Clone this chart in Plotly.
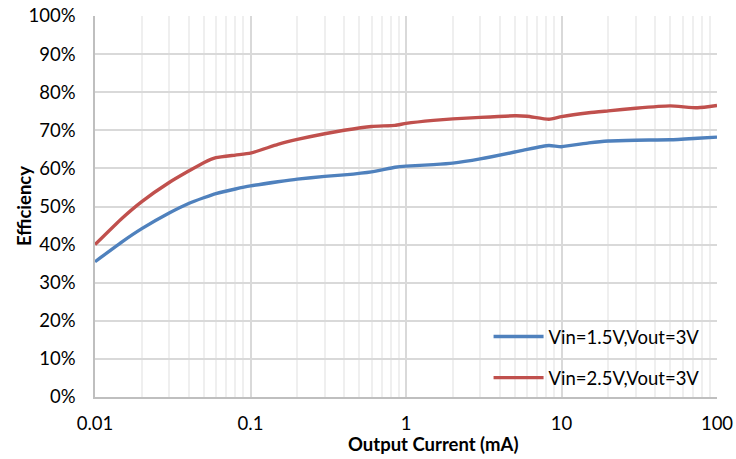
import plotly.graph_objects as go

current_ma = [0.01, 0.015, 0.02, 0.03, 0.04, 0.05, 0.06, 0.08, 0.1, 0.15, 0.2, 0.3, 0.4, 0.6, 0.85, 1, 1.5, 2, 3, 5, 6, 8.3, 10, 15, 20, 30, 50, 75, 100]
eff_15v = [35.5, 40.8, 44.2, 48.3, 50.8, 52.3, 53.4, 54.6, 55.4, 56.5, 57.2, 57.9, 58.3, 59.1, 60.3, 60.6, 61.0, 61.4, 62.5, 64.3, 65.0, 66.0, 65.7, 66.7, 67.2, 67.4, 67.5, 67.9, 68.2]
eff_25v = [40.0, 47.0, 51.3, 56.3, 59.3, 61.5, 62.8, 63.5, 64.0, 66.3, 67.6, 69.1, 70.0, 71.0, 71.3, 71.8, 72.6, 73.0, 73.4, 73.8, 73.7, 72.9, 73.6, 74.6, 75.1, 75.8, 76.4, 75.9, 76.5]

series_names = ["Vin=1.5V,Vout=3V", "Vin=2.5V,Vout=3V"]
x_tickvals = [0.01, 0.1, 1, 10, 100]
x_ticktext = ["0.01", "0.1", "1", "10", "100"]
y_tickvals = list(range(0, 101, 10))
y_ticktext = [f"{v}%" for v in y_tickvals]

font_family = "Lato, 'Open Sans', sans-serif"
FS = 18.5

fig = go.Figure()
fig.add_trace(go.Scatter(x=current_ma, y=eff_15v, mode="lines", name=series_names[0],
                         line=dict(color="#4F81BD", width=3.4, shape="spline", smoothing=0.5),
                         legendgroup="a"))
fig.add_trace(go.Scatter(x=current_ma, y=eff_25v, mode="lines", name=series_names[1],
                         line=dict(color="#C0504D", width=3.4, shape="spline", smoothing=0.5),
                         legendgroup="b"))

fig.update_layout(
    width=736, height=459, autosize=False,
    margin=dict(l=95, r=19, t=16, b=62, autoexpand=False),
    paper_bgcolor="white", plot_bgcolor="white",
    font=dict(family=font_family, size=FS, color="#000000"),
    showlegend=True,
    legend=dict(x=0.98, y=0.0, xanchor="right", yanchor="bottom",
                bgcolor="rgba(0,0,0,0)", font=dict(size=FS),
                tracegroupgap=14, traceorder="grouped", itemwidth=50),
    xaxis=dict(type="log", range=[-2, 2], tickvals=x_tickvals, ticktext=x_ticktext,
               showgrid=True, gridcolor="#D9D9D9", gridwidth=1.5,
               minor=dict(dtick="D1", showgrid=True, gridcolor="#EFEFEF", gridwidth=1.5, ticks=""),
               showline=True, linecolor="#BFBFBF", linewidth=1.5, automargin=False,
               ticks="", zeroline=False, ticklabelstandoff=9),
    yaxis=dict(range=[0, 100], tickvals=y_tickvals, ticktext=y_ticktext,
               showgrid=True, gridcolor="#D9D9D9", gridwidth=1.5,
               showline=True, linecolor="#BFBFBF", linewidth=1.5, automargin=False,
               ticks="", zeroline=False, ticklabelstandoff=14),
    annotations=[
        dict(text="<b>Output Current (mA)</b>", xref="paper", yref="paper",
             x=(433 - 95) / 622, y=-(444 - 397) / 381, xanchor="center", yanchor="middle",
             showarrow=False, font=dict(size=FS)),
        dict(text="<b>Efficiency</b>", xref="paper", yref="paper", textangle=-90,
             x=(24 - 95) / 622, y=(397 - 206) / 381, xanchor="center", yanchor="middle",
             showarrow=False, font=dict(size=FS)),
    ],
)

fig.write_html("out.html", config={"displayModeBar": False, "responsive": False},
               post_script="document.body.style.margin='0px';document.body.style.overflow='hidden';")
